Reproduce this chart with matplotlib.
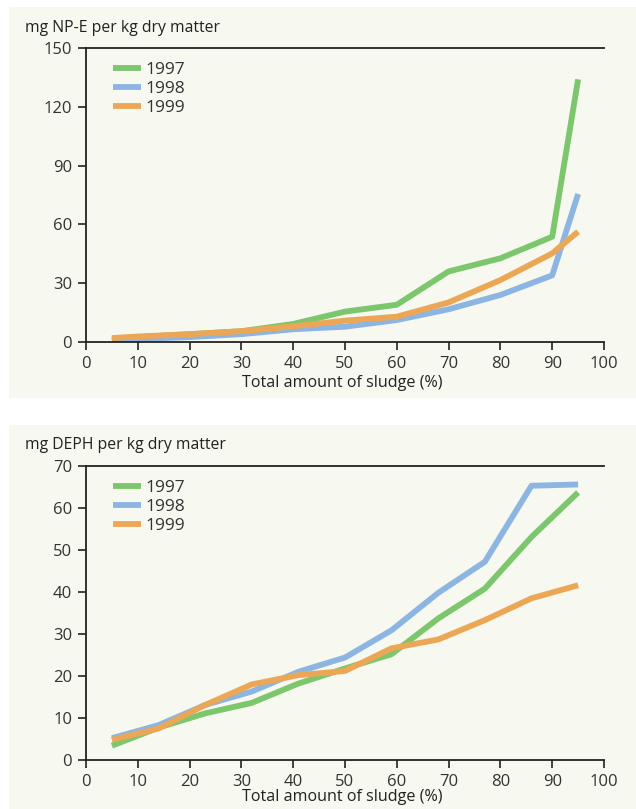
import matplotlib
matplotlib.use("Agg")
import matplotlib.pyplot as plt
from matplotlib.patches import Rectangle

plt.rcParams["font.family"] = ["Open Sans", "DejaVu Sans"]

years = ["1997", "1998", "1999"]
colours = ["#7cc66e", "#8db5e2", "#eba756"]

# NP-E panel
npe_x = [5, 10, 20, 30, 40, 50, 60, 70, 80, 90, 95]
npe_1997 = [1.0, 2.5, 4.0, 5.5, 9.2, 15.5, 19.0, 36.0, 42.7, 53.7, 134.0]
npe_1998 = [1.0, 1.5, 2.5, 4.0, 6.5, 7.8, 11.2, 16.7, 24.0, 34.0, 75.5]
npe_1999 = [2.0, 2.8, 4.0, 5.5, 8.0, 10.9, 12.9, 20.2, 31.6, 45.2, 56.3]

# DEPH panel
deph_x = [5, 14, 23, 32, 41, 50, 59, 68, 77, 86, 95]
deph_1997 = [3.4, 7.7, 11.1, 13.6, 18.2, 21.8, 25.2, 33.7, 40.8, 53.1, 63.7]
deph_1998 = [5.2, 8.3, 13.1, 16.3, 21.0, 24.4, 30.9, 39.8, 47.2, 65.3, 65.6]
deph_1999 = [4.8, 7.5, 13.1, 18.0, 20.2, 21.2, 26.6, 28.7, 33.3, 38.5, 41.6]

x_ticks = list(range(0, 101, 10))
npe_ticks = [0, 30, 60, 90, 120, 150]
deph_ticks = [0, 10, 20, 30, 40, 50, 60, 70]

W, H = 636, 809
fig = plt.figure(figsize=(W / 100, H / 100), dpi=100)
bg = "#f7f8ef"
fig.patches.append(Rectangle((9 / W, 1 - 398 / H), 1, 391 / H, transform=fig.transFigure,
                             facecolor=bg, edgecolor="none", zorder=-10))
fig.patches.append(Rectangle((9 / W, 0), 1, 1 - 425 / H, transform=fig.transFigure,
                             facecolor=bg, edgecolor="none", zorder=-10))


def draw_panel(ax, xs, series, yticks, ylabel, ylabel_y, xlabel_y):
    ax.set_facecolor("none")
    for ys, c, lab in zip(series, colours, years):
        ax.plot(xs, ys, color=c, lw=4.2, label=lab, solid_capstyle="butt")
    ax.set_xlim(0, 100)
    ax.set_ylim(yticks[0], yticks[-1])
    ax.set_xticks(x_ticks)
    ax.set_yticks(yticks)
    for s in ["left", "bottom", "top"]:
        ax.spines[s].set_color("#222222")
        ax.spines[s].set_linewidth(1.3)
    ax.spines["right"].set_visible(False)
    ax.tick_params(length=6, width=1.2, color="#222222", labelsize=12,
                   labelcolor="#333333", pad=4)
    fig.text(25 / W, 1 - ylabel_y / H, ylabel, fontsize=11.3, color="#222222",
             ha="left", va="center")
    fig.text(342 / W, 1 - xlabel_y / H, "Total amount of sludge (%)", fontsize=11.6,
             color="#222222", ha="center", va="center")
    leg = ax.legend(loc="upper left", bbox_to_anchor=(0.038, 0.975), frameon=False,
                    handlelength=1.65, handletextpad=0.25, labelspacing=0.15,
                    fontsize=12.5, borderaxespad=0)
    for t in leg.get_texts():
        t.set_color("#333333")


ax1 = fig.add_axes([86 / W, 1 - 342 / H, 518 / W, 294 / H])
draw_panel(ax1, npe_x, [npe_1997, npe_1998, npe_1999], npe_ticks,
           "mg NP-E per kg dry matter", 28, 383)

ax2 = fig.add_axes([86 / W, 1 - 760 / H, 518 / W, 294 / H])
draw_panel(ax2, deph_x, [deph_1997, deph_1998, deph_1999], deph_ticks,
           "mg DEPH per kg dry matter", 445, 797)

fig.savefig("out.png", dpi=100)
